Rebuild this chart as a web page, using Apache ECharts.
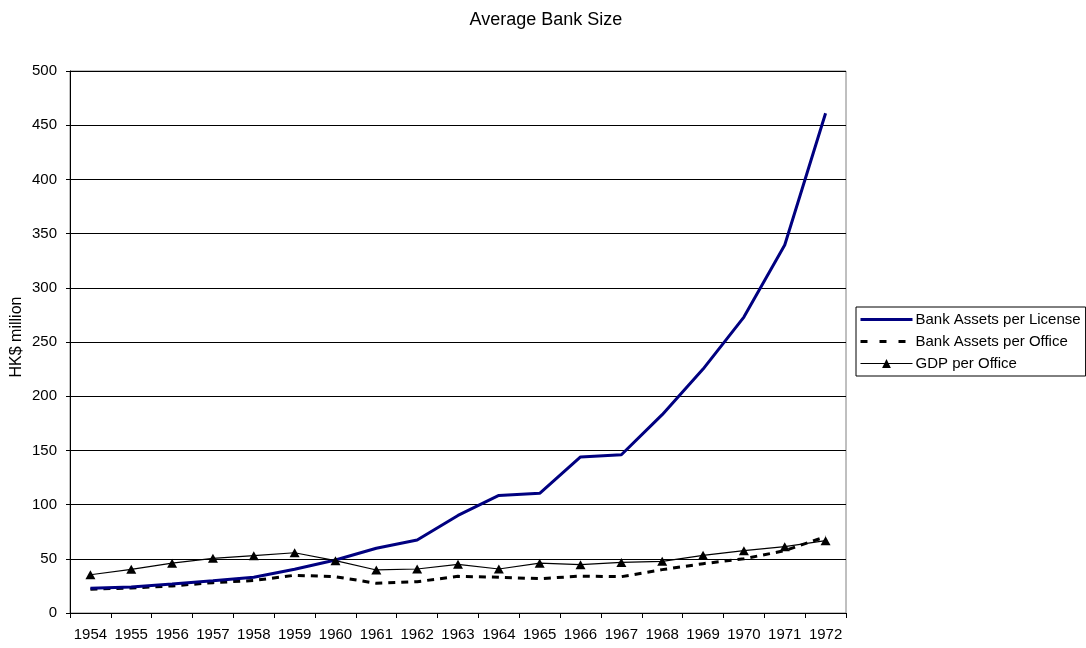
<!DOCTYPE html>
<html>
<head>
<meta charset="utf-8">
<script src="https://cdn.jsdelivr.net/npm/echarts@6/dist/echarts.min.js"></script>
<style>
  html, body { margin: 0; padding: 0; background: #fff; }
  #chart { width: 1086px; height: 648px; }
</style>
</head>
<body>
<div id="chart"></div>
<script>
// years on the x axis
const years = ["1954", "1955", "1956", "1957", "1958", "1959", "1960", "1961", "1962", "1963",
    "1964", "1965", "1966", "1967", "1968", "1969", "1970", "1971", "1972"];

// HK$ million
const assetsPerLicense = [22.8, 24, 26.7, 29.8, 33, 40.3, 48.9, 59.7, 67.3, 90, 108.5, 110.4,
    144, 146, 183, 225, 273, 339.5, 461];
const assetsPerOffice = [22, 23, 25, 28, 30, 34.8, 33.5, 27.4, 28.9, 33.8, 33, 31.7,
    34, 33.5, 40, 45.5, 50, 57.5, 70.4];
const gdpPerOffice = [35.3, 40.3, 46, 50.4, 52.9, 55.6, 48.3, 39.7, 40.6, 44.9, 40.6, 46,
    44.6, 46.7, 47.7, 53.2, 57.5, 61.2, 66.7];

const font = "Liberation Sans, Arial, sans-serif";

const chart = echarts.init(document.getElementById("chart"));

// hide the marker ECharts puts in the legend for lines without symbols
const noMarker = { color: "rgba(0,0,0,0)", opacity: 0 };

chart.setOption({
    animation: false,
    backgroundColor: "#fff",
    title: {
        text: "Average Bank Size",
        left: 541,
        textAlign: "center",
        top: 6,
        textStyle: { fontFamily: font, fontSize: 18, fontWeight: "normal", color: "#000" }
    },
    grid: {
        left: 70,
        right: 240,
        top: 71,
        bottom: 35,
        outerBoundsMode: "none",
        show: true,
        borderColor: "#808080",
        borderWidth: 1
    },
    legend: {
        orient: "vertical",
        left: 856,
        top: 307,
        padding: [4, 5, 4, 3],
        itemGap: 5,
        itemWidth: 52,
        itemHeight: 11,
        borderColor: "#000",
        borderWidth: 1,
        borderRadius: 0,
        textStyle: { fontFamily: font, fontSize: 15, color: "#000", lineHeight: 17, padding: [0, 0, 0, -2] },
        data: [
            { name: "Bank Assets per License", itemStyle: noMarker, lineStyle: { width: 3, color: "#000080" } },
            { name: "Bank Assets per Office", itemStyle: noMarker, lineStyle: { width: 3, type: [7, 12] } },
            { name: "GDP per Office", lineStyle: { width: 1.2 } }
        ]
    },
    xAxis: {
        type: "category",
        data: years,
        boundaryGap: true,
        axisLine: { lineStyle: { color: "#000", width: 1 } },
        axisTick: { show: true, interval: 0, length: 5, lineStyle: { color: "#000" } },
        axisLabel: { interval: 0, color: "#000", fontFamily: font, fontSize: 15, margin: 14 },
        splitLine: { show: false }
    },
    yAxis: {
        type: "value",
        min: 0,
        max: 500,
        interval: 50,
        name: "HK$ million",
        nameLocation: "middle",
        nameGap: 45,
        nameMoveOverlap: false,
        nameTextStyle: { fontFamily: font, fontSize: 16, color: "#000", padding: [0, 0, 0, 10] },
        axisLine: { show: true, lineStyle: { color: "#000", width: 1 } },
        axisTick: { show: true, length: 4, lineStyle: { color: "#000" } },
        axisLabel: { color: "#000", fontFamily: font, fontSize: 15, margin: 13 },
        splitLine: { show: true, lineStyle: { color: "#000", width: 1 } }
    },
    series: [
        {
            name: "Bank Assets per License",
            type: "line",
            data: assetsPerLicense,
            symbol: "none",
            color: "#000080",
            lineStyle: { color: "#000080", width: 3 },
            z: 4
        },
        {
            name: "Bank Assets per Office",
            type: "line",
            data: assetsPerOffice,
            symbol: "none",
            color: "#000",
            lineStyle: { color: "#000", width: 3, type: [7, 6] },
            z: 3
        },
        {
            name: "GDP per Office",
            type: "line",
            data: gdpPerOffice,
            symbol: "triangle",
            symbolSize: [10, 9],
            color: "#000",
            itemStyle: { color: "#000" },
            lineStyle: { color: "#000", width: 1.2 },
            z: 5
        }
    ]
});
</script>
</body>
</html>
